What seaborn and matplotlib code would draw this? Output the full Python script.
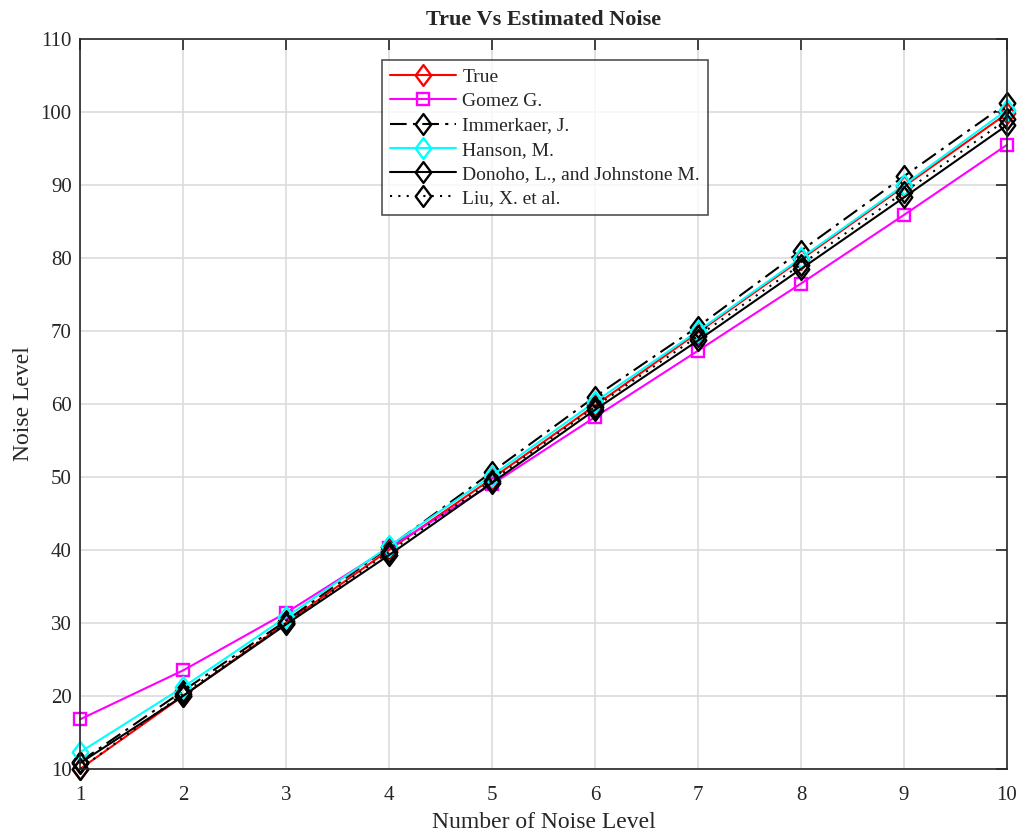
import matplotlib
matplotlib.use("Agg")
import matplotlib.pyplot as plt
from matplotlib.path import Path
import seaborn as sns
import pandas as pd
import numpy as np

noise_levels = [1, 2, 3, 4, 5, 6, 7, 8, 9, 10]
true_vals = [10.0, 20.0, 30.0, 40.0, 49.8, 59.8, 69.8, 79.8, 89.8, 99.8]
gomez_vals = [16.8, 23.5, 31.4, 40.3, 49.0, 58.2, 67.3, 76.5, 85.9, 95.5]
immerkaer_vals = [11.0, 20.7, 30.3, 40.4, 50.7, 61.0, 70.6, 81.0, 91.2, 101.2]
hanson_vals = [12.3, 21.2, 30.8, 40.5, 50.2, 60.3, 70.0, 80.0, 90.0, 100.3]
donoho_vals = [10.8, 20.0, 29.8, 39.3, 49.2, 59.2, 68.7, 78.5, 88.3, 98.2]
liu_vals = [10.0, 20.3, 30.0, 39.7, 49.5, 59.6, 69.3, 79.1, 89.0, 99.0]

series_names = ["True", "Gomez G.", "Immerkaer, J.", "Hanson, M.",
                "Donoho, L., and Johnstone M.", "Liu, X. et al."]
series_vals = [true_vals, gomez_vals, immerkaer_vals, hanson_vals, donoho_vals, liu_vals]

sns.set_theme(style="white")
plt.rcParams['font.family'] = ['Liberation Serif', 'DejaVu Serif']

diamond = Path([(0, 1), (0.75, 0), (0, -1), (-0.75, 0), (0, 1)],
               [Path.MOVETO, Path.LINETO, Path.LINETO, Path.LINETO, Path.CLOSEPOLY])

styles = {
    "True": dict(color="#ff0000", ls="-", marker=diamond),
    "Gomez G.": dict(color="#ff00ff", ls="-", marker="s"),
    "Immerkaer, J.": dict(color="black", ls=(0, (8, 3, 1.5, 3)), marker=diamond),
    "Hanson, M.": dict(color="#00ffff", ls="-", marker=diamond),
    "Donoho, L., and Johnstone M.": dict(color="black", ls="-", marker=diamond),
    "Liu, X. et al.": dict(color="black", ls=(0, (1, 3)), marker=diamond),
}

fig = plt.figure(figsize=(10.22, 8.36), dpi=100)
ax = fig.add_axes([80/1022, 1 - 769/836, (1007-80)/1022, (769-39)/836])

for name, vals in zip(series_names, series_vals):
    st = styles[name]
    df = pd.DataFrame({"x": noise_levels, "y": vals})
    ms = 15 if st["marker"] is diamond else 9
    sns.lineplot(data=df, x="x", y="y", ax=ax, color=st["color"], linestyle=st["ls"],
                 marker=st["marker"], markersize=ms, markerfacecolor="none",
                 markeredgecolor=st["color"], markeredgewidth=1.7, linewidth=1.5,
                 label=name, clip_on=False)

ax.set_xlim(1, 10)
ax.set_ylim(10, 110)
ax.set_xticks(range(1, 11))
ax.set_yticks(range(10, 111, 10))
ax.grid(True, color="#dcdcdc", linewidth=1.2)
for sp in ax.spines.values():
    sp.set_color("#262626")
    sp.set_linewidth(1.2)
    sp.set_zorder(5)
ax.tick_params(direction="in", length=8, width=1.2, color="#262626",
               top=True, right=True, labelsize=15, labelcolor="#262626")
ax.tick_params(axis="x", pad=12)
ax.tick_params(axis="y", pad=6)
ax.set_xlabel("Number of Noise Level", fontsize=17, color="#262626", labelpad=5)
ax.set_ylabel("Noise Level", fontsize=17, color="#262626", labelpad=5)
ax.set_title("True Vs Estimated Noise", fontsize=16, fontweight="bold", pad=10)

leg = ax.legend(loc="upper left", bbox_to_anchor=(0.326, 0.971), fontsize=14,
                frameon=True, fancybox=False, edgecolor="#262626",
                borderpad=0.42, labelspacing=0.34, handlelength=3.4, handletextpad=0.3,
                borderaxespad=0)
leg.get_frame().set_linewidth(1.2)
leg.set_zorder(10)

fig.savefig("out.png", dpi=100)
